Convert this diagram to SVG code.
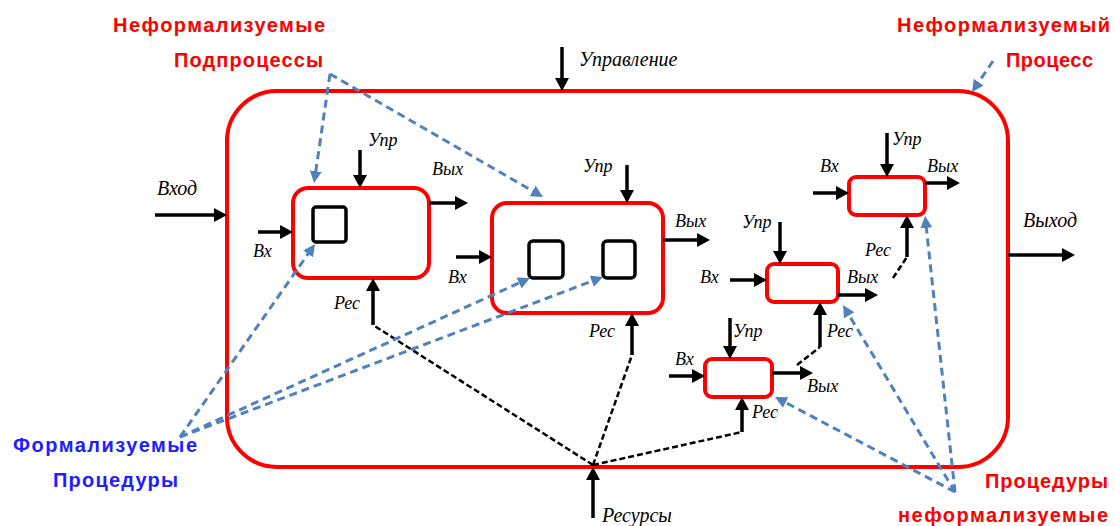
<svg xmlns="http://www.w3.org/2000/svg" width="1115" height="526" viewBox="0 0 1115 526">
<style>
.box{fill:#fff;stroke:#FF0000;stroke-width:4}
.sq{fill:none;stroke:#000;stroke-width:3.5}
.arr{stroke:#000;stroke-width:3.5;fill:none;marker-end:url(#ah)}
.bd{stroke:#000;stroke-width:2.5;fill:none;stroke-dasharray:6,3}
.bl{stroke:#4F81BD;stroke-width:3;fill:none;stroke-dasharray:8,5;marker-end:url(#bh)}
.lb{font-family:"Liberation Serif",serif;font-style:italic;font-size:18px;fill:#000}
.lbb{font-family:"Liberation Serif",serif;font-style:italic;font-size:20px;fill:#000}
.rt{font-family:"Liberation Sans",Arial,sans-serif;font-weight:bold;font-size:20px;fill:#FF0000}
.bt{font-family:"Liberation Sans",Arial,sans-serif;font-weight:bold;font-size:20px;fill:#2020FF}
</style>
<defs>
<marker id="ah" markerUnits="userSpaceOnUse" markerWidth="14" markerHeight="14" refX="5" refY="7" orient="auto" viewBox="0 0 14 14"><path d="M0,0 L13,7 L0,14 z" fill="#000"/></marker>
<marker id="bh" markerUnits="userSpaceOnUse" markerWidth="13" markerHeight="12" refX="4" refY="6" orient="auto" viewBox="0 0 13 12"><path d="M0,0 L12,6 L0,12 z" fill="#4F81BD"/></marker>
</defs>
<rect width="1115" height="526" fill="#fff"/>
<g id="process">
<rect x="227" y="91" width="781" height="376" rx="50" ry="50" fill="none" stroke="#FF0000" stroke-width="4"/>
</g>
<g id="box1">
<rect class="box" x="293" y="188" width="136" height="90" rx="15"/>
<rect class="sq" x="313" y="207" width="33" height="35" rx="3"/>
</g>
<g id="box2">
<rect class="box" x="492" y="203" width="171" height="110" rx="15"/>
<rect class="sq" x="529" y="241" width="34" height="37" rx="4"/>
<rect class="sq" x="603" y="241" width="32" height="37" rx="4"/>
</g>
<g id="box3"><rect class="box" x="767" y="264" width="71" height="38" rx="7"/></g>
<g id="box4"><rect class="box" x="849" y="177" width="76" height="38" rx="7"/></g>
<g id="box5"><rect class="box" x="705" y="359" width="67" height="38" rx="7"/></g>
<g id="connectors">
<path class="bd" d="M593,465 L373,325"/>
<path class="bd" d="M593,465 L632,355"/>
<path class="bd" d="M593,465 L742,432"/>
<path class="bd" d="M797,365 L820,347"/>
<path class="bd" d="M893,278 L907,257"/>
<path class="arr" d="M562,47 V83"/>
<path class="arr" d="M593,518 V475"/>
<path class="arr" d="M155,215 H219"/>
<path class="arr" d="M1008,255 H1067"/>
<path class="arr" d="M360,150 V180"/>
<path class="arr" d="M258,232 H285"/>
<path class="arr" d="M429,203 H460"/>
<path class="arr" d="M373,325 V286"/>
<path class="arr" d="M627,165 V195"/>
<path class="arr" d="M456,257 H484"/>
<path class="arr" d="M663,240 H702"/>
<path class="arr" d="M632,355 V321"/>
<path class="arr" d="M780,222 V256"/>
<path class="arr" d="M730,280 H759"/>
<path class="arr" d="M838,295 H870"/>
<path class="arr" d="M820,347 V310"/>
<path class="arr" d="M887,133 V169"/>
<path class="arr" d="M813,193 H841"/>
<path class="arr" d="M925,183 H952"/>
<path class="arr" d="M907,257 V223"/>
<path class="arr" d="M730,318 V351"/>
<path class="arr" d="M669,376 H697"/>
<path class="arr" d="M772,373 H805"/>
<path class="arr" d="M742,432 V405"/>
<path class="bl" d="M330,74 L315.2,175.1"/>
<path class="bl" d="M330,74 L536.1,193"/>
<path class="bl" d="M180,437 L310.4,250.6"/>
<path class="bl" d="M180,437 L522.7,281.3"/>
<path class="bl" d="M180,437 L595.5,279.8"/>
<path class="bl" d="M955,492 L925.9,224"/>
<path class="bl" d="M955,492 L847.1,311.9"/>
<path class="bl" d="M955,492 L782.1,400.7"/>
<path class="bl" d="M993,61 L976.5,85.4"/>
</g>
<g id="labels">
<text class="lbb" x="579" y="66">Управление</text>
<text class="lbb" x="157" y="195">Вход</text>
<text class="lbb" x="1023" y="227">Выход</text>
<text class="lbb" x="602" y="522">Ресурсы</text>
<text class="lb" x="368" y="146">Упр</text>
<text class="lb" x="432" y="175">Вых</text>
<text class="lb" x="253" y="257">Вх</text>
<text class="lb" x="334" y="309">Рес</text>
<text class="lb" x="583" y="172">Упр</text>
<text class="lb" x="675" y="227">Вых</text>
<text class="lb" x="448" y="283">Вх</text>
<text class="lb" x="589" y="337">Рес</text>
<text class="lb" x="742" y="228">Упр</text>
<text class="lb" x="700" y="283">Вх</text>
<text class="lb" x="847" y="283">Вых</text>
<text class="lb" x="827" y="337">Рес</text>
<text class="lb" x="892" y="145">Упр</text>
<text class="lb" x="820" y="172">Вх</text>
<text class="lb" x="927" y="172">Вых</text>
<text class="lb" x="865" y="256">Рес</text>
<text class="lb" x="733" y="337">Упр</text>
<text class="lb" x="675" y="365">Вх</text>
<text class="lb" x="807" y="392">Вых</text>
<text class="lb" x="752" y="418">Рес</text>
<text class="rt" x="113" y="32" textLength="212" lengthAdjust="spacing">Неформализуемые</text>
<text class="rt" x="174" y="67" textLength="149" lengthAdjust="spacing">Подпроцессы</text>
<text class="rt" x="897" y="32" textLength="213" lengthAdjust="spacing">Неформализуемый</text>
<text class="rt" x="1006" y="67" textLength="87" lengthAdjust="spacing">Процесс</text>
<text class="bt" x="13" y="452" textLength="184" lengthAdjust="spacing">Формализуемые</text>
<text class="bt" x="53" y="487" textLength="125" lengthAdjust="spacing">Процедуры</text>
<text class="rt" x="985" y="488" textLength="123" lengthAdjust="spacing">Процедуры</text>
<text class="rt" x="898" y="522" textLength="210" lengthAdjust="spacing">неформализуемые</text>
</g>
</svg>
